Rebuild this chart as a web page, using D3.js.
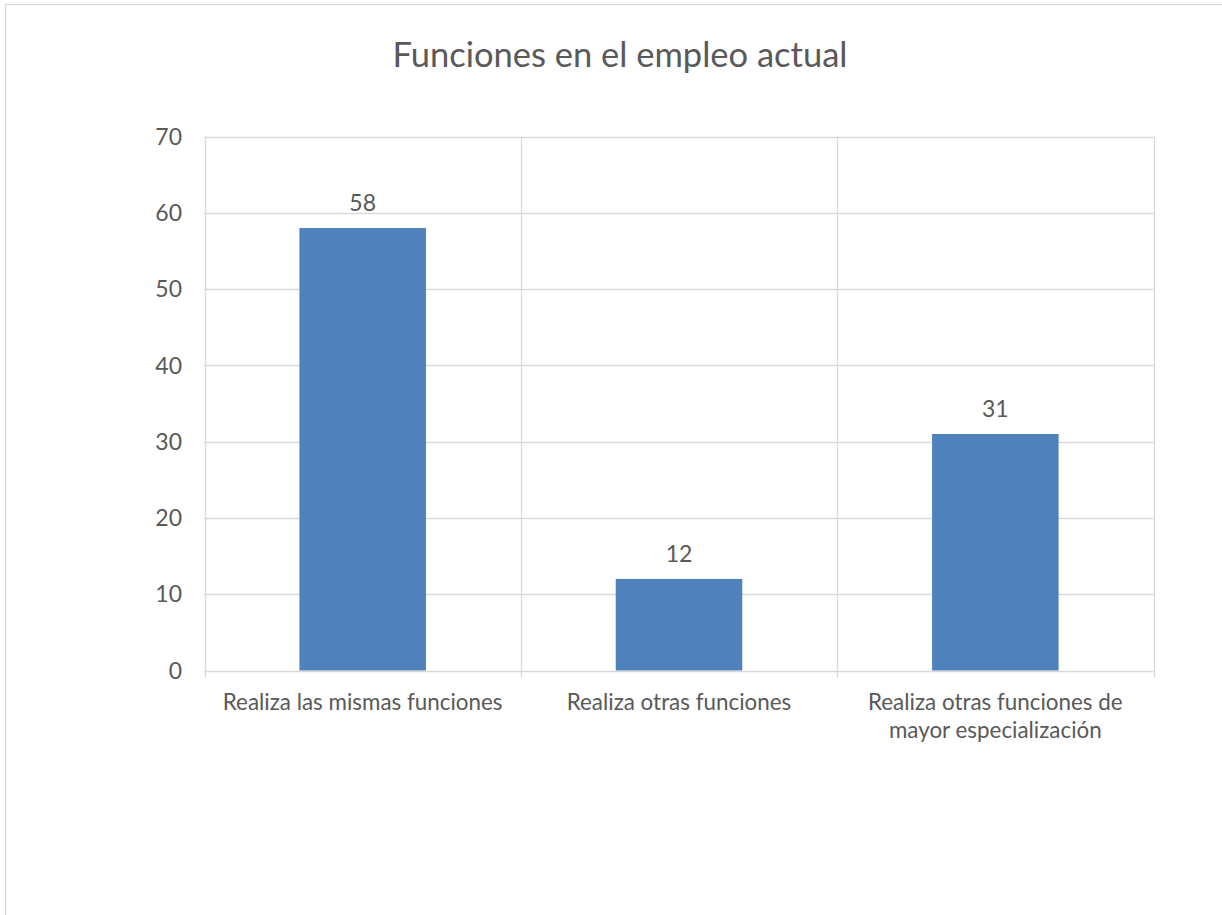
<!DOCTYPE html>
<html><head><meta charset="utf-8">
<script src="https://cdn.jsdelivr.net/npm/d3@7"></script>
<style>body{margin:0;background:#fff}svg{display:block}text{font-family:Lato,"Open Sans",sans-serif;fill:#595959}</style>
</head><body>
<svg id="c" width="1222" height="915"></svg>
<script>
const title = "Funciones en el empleo actual";
const categories = ["Realiza las mismas funciones","Realiza otras funciones","Realiza otras funciones de mayor especialización"];
const values = [58, 12, 31];
const yTicks = [0,10,20,30,40,50,60,70];

const svg = d3.select("#c");
const m = {left:204.5, right:1153.5, top:136.5, bottom:670.5};
const grid = "#D9D9D9", bar = "#4F81BD";

svg.append("rect").attr("x",5.5).attr("y",4.5).attr("width",1240).attr("height",960)
  .attr("fill","#fff").attr("stroke",grid).attr("stroke-width",1.3);

svg.append("text").attr("x",620).attr("y",67).attr("text-anchor","middle")
  .style("font-size","34.5px").text(title);

const x = d3.scaleBand().domain(categories).range([m.left,m.right]).paddingInner(0).paddingOuter(0);
const y = d3.scaleLinear().domain([0,70]).range([m.bottom,m.top]);

svg.append("g").selectAll("line").data(yTicks).join("line")
  .attr("x1",m.left).attr("x2",m.right).attr("y1",d=>Math.round(y(d))+0.5).attr("y2",d=>Math.round(y(d))+0.5)
  .attr("stroke",grid).attr("stroke-width",1.3);
const bounds = categories.map(c=>x(c)).concat([x(categories[categories.length-1])+x.bandwidth()]);
svg.append("g").selectAll("line").data(bounds).join("line")
  .attr("x1",d=>Math.round(d)+0.5).attr("x2",d=>Math.round(d)+0.5).attr("y1",m.top).attr("y2",m.bottom+7)
  .attr("stroke",grid).attr("stroke-width",1.3);

svg.append("g").selectAll("text").data(yTicks).join("text")
  .attr("x",182).attr("y",d=>y(d)).attr("dy","0.36em").attr("text-anchor","end")
  .style("font-size","23px").text(d=>d);

const bw = x.bandwidth()*0.4;
svg.append("g").selectAll("rect").data(values).join("rect")
  .attr("x",(d,i)=>x(categories[i])+x.bandwidth()/2-bw/2).attr("width",bw)
  .attr("y",d=>y(d)).attr("height",d=>y(0)-y(d)).attr("fill",bar);

svg.append("g").selectAll("text").data(values).join("text")
  .attr("x",(d,i)=>x(categories[i])+x.bandwidth()/2).attr("y",d=>y(d)-17)
  .attr("text-anchor","middle").style("font-size","23px").text(d=>d);

const lab = svg.append("g");
categories.forEach(c=>{
  const cx = x(c)+x.bandwidth()/2;
  const t = lab.append("text").attr("x",cx).attr("y",710)
    .attr("text-anchor","middle").style("font-size","22.4px");
  const words = c.split(" ");
  let line = [], lines = [];
  const probe = t.append("tspan");
  words.forEach(w=>{
    const test = line.concat([w]).join(" ");
    probe.text(test);
    if (probe.node().getComputedTextLength() > 300 && line.length) { lines.push(line.join(" ")); line=[w]; }
    else line.push(w);
  });
  lines.push(line.join(" "));
  probe.remove();
  lines.forEach((l,i)=>t.append("tspan").attr("x",cx).attr("dy",i?28:0).text(l));
});
</script>
</body></html>
